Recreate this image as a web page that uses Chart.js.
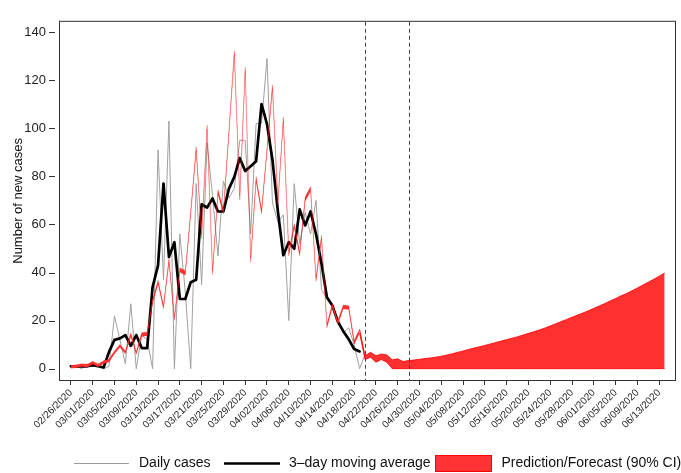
<!DOCTYPE html>
<html>
<head>
<meta charset="utf-8">
<script src="https://cdn.jsdelivr.net/npm/chart.js@4.4.1/dist/chart.umd.min.js"></script>
<style>
  html, body { margin: 0; padding: 0; background: #fff; }
  #wrap { width: 681px; height: 473px; position: relative; }
</style>
</head>
<body>
<div id="wrap"><canvas id="c" width="681" height="473"></canvas></div>
<script>
// Day index 0 = 02/26/2020; one value per day.
const tickLabels = [
  '02/26/2020','03/01/2020','03/05/2020','03/09/2020','03/13/2020','03/17/2020','03/21/2020',
  '03/25/2020','03/29/2020','04/02/2020','04/06/2020','04/10/2020','04/14/2020','04/18/2020',
  '04/22/2020','04/26/2020','04/30/2020','05/04/2020','05/08/2020','05/12/2020','05/16/2020',
  '05/20/2020','05/24/2020','05/28/2020','06/01/2020','06/05/2020','06/09/2020','06/13/2020'
];
const tickStepDays = 4;
const yTicks = [0, 20, 40, 60, 80, 100, 120, 140];

const dailyCases = [
  1, 1, 0, 2, 1, 1, 0, 1,
  22, 12, 2, 27, 0, 14, 12, 0,
  91, 37, 103, 0, 56, 32, 0, 77,
  35, 94, 72, 47, 78, 71, 75, 95,
  95, 56, 102, 102, 129, 69, 61, 64,
  20, 77, 52, 65, 56, 70, 33, 29,
  26, 21, 15, 17, 10, 0, 6
];

const movingAverage = [
  1, 1, 1, 1, 1.5, 1, 0.5, 7,
  12, 12.6, 14, 9.5, 14, 8.6, 8.6, 34,
  43, 77, 46.5, 52.6, 29, 29, 36, 37,
  68.4, 67, 70.8, 65.4, 65.4, 74.8, 79.8, 87.6,
  82.2, 84.2, 86.3, 110.1, 101.7, 86.9, 65.4, 47.2,
  52.6, 49.9, 66.3, 59.6, 65.4, 56, 43.8, 29.7,
  26.3, 19.6, 15.6, 12.2, 8.2, 7.2
];

// Model band: fitted interval through 04/19, forecast interval afterwards.
const predLower = [
  0.2, 0.4, 0.9, 0.6, 1.9, 0.8, 2.1, 2.8, 6.2, 8.9,
  6.2, 13.4, 6.0, 13.4, 13.7, 27.2, 35.2, 24.9, 44.1, 20.1,
  40.2, 38.9, 64.1, 90.6, 54.1, 99.6, 39.1, 72.6, 64.5, 97.1,
  130.5, 70.1, 123.7, 44.3, 78.0, 64.5, 90.1, 116.3, 68.1, 102.9,
  47.0, 58.6, 47.0, 69.6, 73.9, 36.3, 53.7, 17.0, 25.5, 18.4,
  24.9, 24.6, 10.2, 14.8, 3.8, 4.8, 2.7, 3.8, 2.7, 0,
  0, 0, 0, 0, 0, 0, 0, 0, 0, 0,
  0, 0, 0, 0, 0, 0, 0, 0, 0, 0,
  0, 0, 0, 0, 0, 0, 0, 0, 0, 0,
  0, 0, 0, 0, 0, 0, 0, 0, 0, 0,
  0, 0, 0, 0, 0, 0, 0, 0, 0, 0
];
const predUpper = [
  1.4, 1.6, 2.1, 1.8, 3.1, 2.0, 3.3, 4.0, 7.4, 10.1,
  7.4, 15.0, 7.2, 15.0, 15.3, 28.8, 36.8, 26.5, 45.9, 21.7,
  42.0, 40.7, 65.9, 92.4, 55.9, 101.4, 40.9, 74.4, 66.3, 98.9,
  132.3, 71.9, 125.5, 46.1, 79.8, 66.3, 91.9, 118.1, 69.9, 104.7,
  48.8, 60.4, 48.8, 71.4, 75.7, 37.9, 55.5, 18.6, 27.1, 20.0,
  26.5, 26.2, 11.8, 16.4, 5.4, 6.8, 5.4, 6.1, 5.7, 3.7,
  4.1, 3.0, 3.4, 3.6, 3.9, 4.2, 4.5, 4.8, 5.2, 5.7,
  6.2, 6.8, 7.4, 8.0, 8.6, 9.1, 9.7, 10.3, 10.9, 11.5,
  12.1, 12.7, 13.3, 14.0, 14.7, 15.4, 16.1, 16.9, 17.8, 18.7,
  19.6, 20.5, 21.4, 22.3, 23.2, 24.1, 25.1, 26.1, 27.1, 28.2,
  29.2, 30.3, 31.3, 32.4, 33.6, 34.8, 36.0, 37.2, 38.5, 39.8
];

// Last fitted day (04/19); the forecast starts after it.
const lastFittedDay = 53;
// Day indices of the dashed reference lines (04/20 and 04/28).
const markerDays = [54, 62];

const FONT = '"Liberation Sans", Arial, Helvetica, sans-serif';
const toPoints = arr => arr.map((v, i) => ({ x: i, y: v }));
// Fitted segments get a faint edge, forecast segments a solid one.
const bandEdge = {
  borderColor: c => c.p0DataIndex < lastFittedDay ? 'rgba(255,0,0,0.45)' : '#ff0000',
  borderWidth: c => c.p0DataIndex < lastFittedDay ? 0.5 : 0.8
};

const decorations = {
  id: 'decorations',
  afterDatasetsDraw(chart) {
    const { ctx, chartArea: a, scales: { x, y } } = chart;
    ctx.save();
    // dashed reference lines
    ctx.strokeStyle = '#444';
    ctx.lineWidth = 1;
    ctx.setLineDash([4, 3]);
    markerDays.forEach(d => {
      const px = Math.round(x.getPixelForValue(d)) + 0.5;
      ctx.beginPath();
      ctx.moveTo(px, a.top);
      ctx.lineTo(px, a.bottom);
      ctx.stroke();
    });
    ctx.setLineDash([]);
    // plot frame
    ctx.strokeStyle = '#333';
    ctx.strokeRect(a.left - 0.5, a.top - 0.5, a.right - a.left + 1, a.bottom - a.top + 1);
    // y tick marks, set off from the frame
    yTicks.forEach(v => {
      const py = Math.round(y.getPixelForValue(v)) + 0.5;
      ctx.beginPath();
      ctx.moveTo(a.left - 11, py);
      ctx.lineTo(a.left - 5, py);
      ctx.stroke();
    });
    ctx.restore();
  },
  afterDraw(chart) {
    const { ctx, chartArea: a } = chart;
    ctx.save();
    // y axis title
    ctx.fillStyle = '#111';
    ctx.font = '13px ' + FONT;
    ctx.textAlign = 'center';
    ctx.textBaseline = 'middle';
    ctx.translate(18, (a.top + a.bottom) / 2);
    ctx.rotate(-Math.PI / 2);
    ctx.fillText('Number of new cases', 0, 0);
    ctx.restore();

    // legend row
    ctx.save();
    const ly = 463.5;
    ctx.font = '14px ' + FONT;
    ctx.textAlign = 'left';
    ctx.textBaseline = 'middle';
    ctx.fillStyle = '#111';
    ctx.lineCap = 'butt';
    ctx.strokeStyle = '#9a9a9a';
    ctx.lineWidth = 1;
    ctx.beginPath(); ctx.moveTo(74, ly); ctx.lineTo(129, ly); ctx.stroke();
    ctx.fillText('Daily cases', 139, ly);
    ctx.strokeStyle = '#000';
    ctx.lineWidth = 2.7;
    ctx.beginPath(); ctx.moveTo(224, ly); ctx.lineTo(280, ly); ctx.stroke();
    ctx.fillText('3\u2013day moving average', 289, ly);
    ctx.fillStyle = '#ff3333';
    ctx.fillRect(435.5, 455, 56, 17);
    ctx.strokeStyle = '#ff0000';
    ctx.lineWidth = 1;
    ctx.strokeRect(435.5, 455.5, 56, 16);
    ctx.fillStyle = '#111';
    ctx.fillText('Prediction/Forecast (90% CI)', 501.5, ly);
    ctx.restore();
  }
};

new Chart(document.getElementById('c'), {
  type: 'line',
  data: {
    datasets: [
      {
        label: 'Daily cases',
        data: toPoints(dailyCases),
        borderColor: '#a0a0a0',
        borderWidth: 1,
        pointRadius: 0,
        fill: false,
        order: 3
      },
      {
        label: '3\u2013day moving average',
        data: toPoints(movingAverage),
        borderColor: '#000000',
        borderWidth: 2.7,
        borderJoinStyle: 'round',
        borderCapStyle: 'round',
        pointRadius: 0,
        fill: false,
        order: 2
      },
      {
        label: 'lower bound',
        data: toPoints(predLower),
        borderColor: '#ff0000',
        segment: bandEdge,
        pointRadius: 0,
        fill: false,
        order: 1
      },
      {
        label: 'Prediction/Forecast (90% CI)',
        data: toPoints(predUpper),
        borderColor: '#ff0000',
        segment: bandEdge,
        backgroundColor: '#ff3030',
        pointRadius: 0,
        fill: '-1',
        order: 1
      }
    ]
  },
  options: {
    responsive: false,
    animation: false,
    devicePixelRatio: 1,
    layout: { padding: { left: 0, right: 6, top: 12, bottom: 0 } },
    plugins: { legend: { display: false }, tooltip: { enabled: false } },
    scales: {
      x: {
        type: 'linear',
        min: -2.0,
        max: 110.9,
        afterBuildTicks: s => { s.ticks = tickLabels.map((_, i) => ({ value: i * tickStepDays })); },
        afterFit: s => { s.height = 93; },
        grid: { display: true, drawOnChartArea: false, drawTicks: true, tickLength: 5, color: '#333', lineWidth: 1 },
        border: { display: false },
        ticks: {
          autoSkip: false,
          minRotation: 45,
          maxRotation: 45,
          padding: 2,
          color: '#222',
          font: { family: FONT, size: 10 },
          callback: (v, i) => tickLabels[i]
        }
      },
      y: {
        min: -4.7,
        max: 144.3,
        afterBuildTicks: s => { s.ticks = yTicks.map(v => ({ value: v })); },
        afterFit: s => { s.width = 60; },
        grid: { display: false, drawTicks: false },
        border: { display: false },
        ticks: {
          padding: 14,
          color: '#222',
          font: { family: FONT, size: 13 }
        }
      }
    }
  },
  plugins: [decorations]
});
</script>
</body>
</html>
